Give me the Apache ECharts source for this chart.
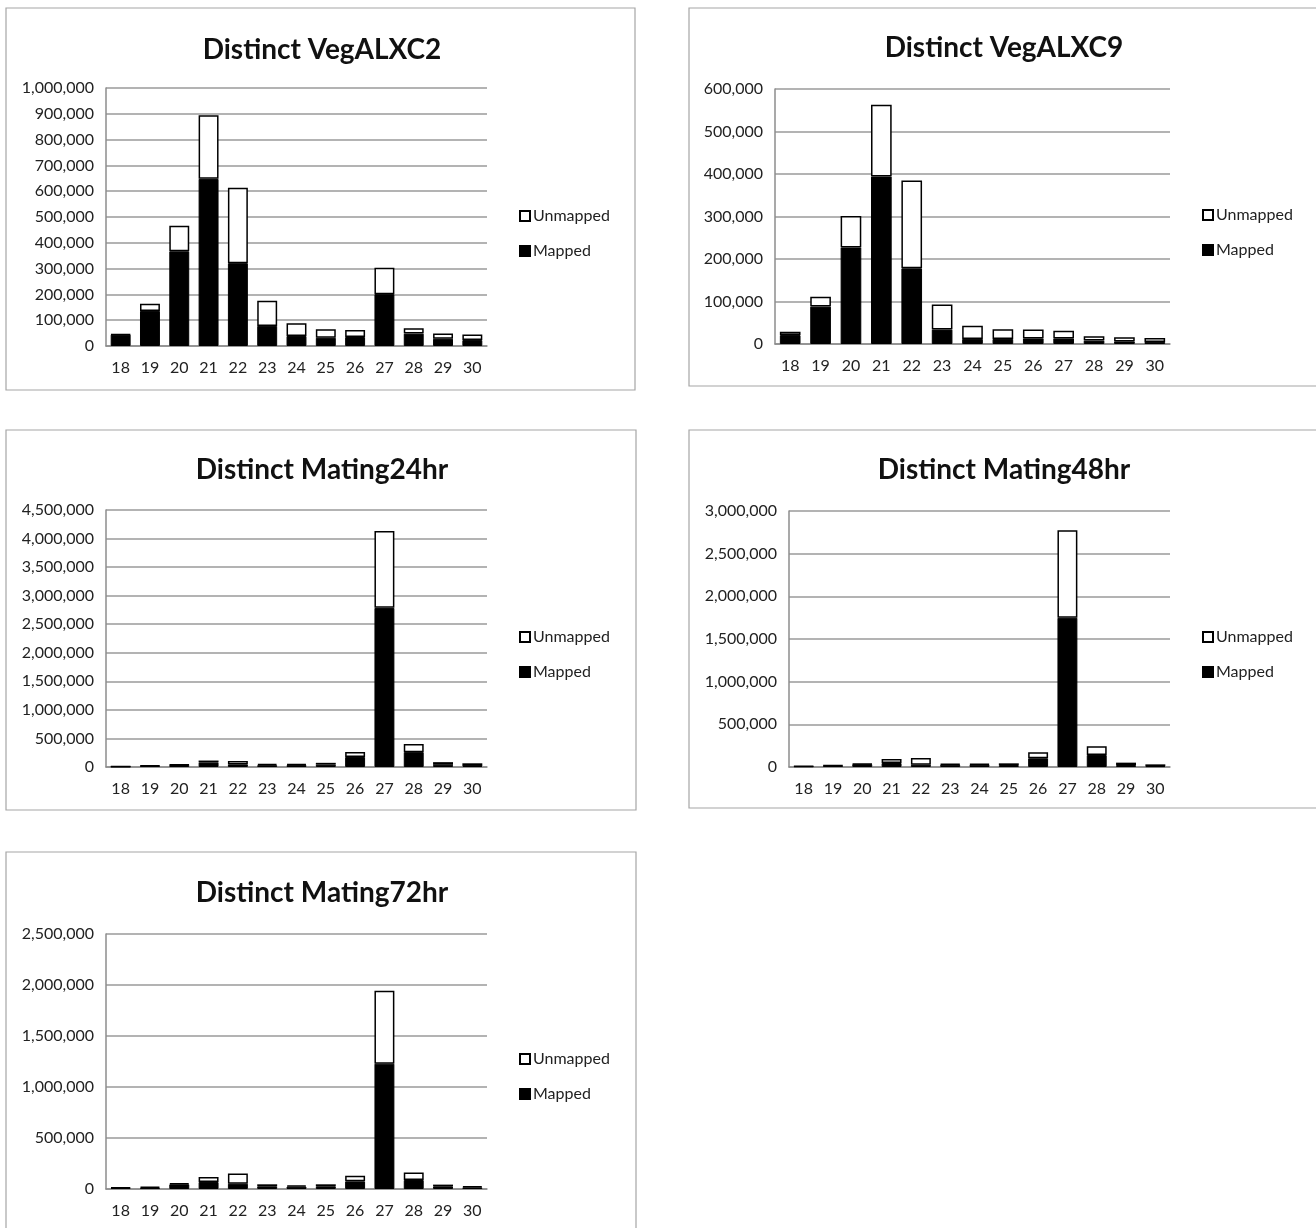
<!DOCTYPE html>
<html><head><meta charset="utf-8">
<script src="https://cdn.jsdelivr.net/npm/echarts@6/dist/echarts.min.js"></script>
<style>html,body{margin:0;padding:0;background:#fff}#c{width:1316px;height:1228px}</style>
</head><body><div id="c"></div>
<script>
const categories = ['18','19','20','21','22','23','24','25','26','27','28','29','30'];
const seriesNames = ['Mapped','Unmapped'];

const titles = ['Distinct VegALXC2','Distinct VegALXC9','Distinct Mating24hr','Distinct Mating48hr','Distinct Mating72hr'];

const vegC2Mapped   = [44000,136000,367000,648000,321000,78000,39000,32000,35000,201000,48000,28000,23000];
const vegC2Unmapped = [2000,28000,99000,246000,292000,97000,49000,33000,27000,102000,21000,20000,22000];

const vegC9Mapped   = [21000,88000,227000,394000,178000,34000,12000,12000,13000,13000,8000,6000,5000];
const vegC9Unmapped = [8000,23000,74000,169000,207000,59000,31000,23000,21000,18000,10000,10000,9000];

const mat24Mapped   = [8000,17000,35000,78000,45000,32000,33000,41000,176000,2787000,260000,38000,18000];
const mat24Unmapped = [4000,6000,6000,35000,58000,21000,18000,32000,88000,1344000,144000,47000,47000];

const mat48Mapped   = [8000,16000,33000,47000,27000,27000,27000,23000,102000,1749000,141000,23000,10000];
const mat48Unmapped = [4000,4000,6000,47000,79000,8000,8000,20000,70000,1025000,102000,28000,21000];

const mat72Mapped   = [10000,13000,46000,69000,52000,26000,23000,26000,75000,1229000,88000,26000,16000];
const mat72Unmapped = [6000,10000,10000,49000,99000,20000,13000,20000,56000,714000,73000,17000,10000];

const yMax      = [1000000, 600000, 4500000, 3000000, 2500000];
const yInterval = [100000, 100000, 500000, 500000, 500000];

const panelData = [
  [vegC2Mapped, vegC2Unmapped],
  [vegC9Mapped, vegC9Unmapped],
  [mat24Mapped, mat24Unmapped],
  [mat48Mapped, mat48Unmapped],
  [mat72Mapped, mat72Unmapped]
];

// layout (presentation only)
const layout = [
  {box:[6,8,629,382],   grid:{left:106,top:88,width:381,height:258},  titleX:317, titleY:31, legX:514, legY:203},
  {box:[689,8,640,378], grid:{left:775,top:89,width:395,height:255},  titleX:999, titleY:29, legX:1197,legY:202},
  {box:[6,430,630,380], grid:{left:106,top:510,width:381,height:257}, titleX:317, titleY:451,legX:514, legY:624},
  {box:[689,430,640,378],grid:{left:789,top:511,width:381,height:256},titleX:999, titleY:451,legX:1197,legY:624},
  {box:[6,852,630,390], grid:{left:106,top:934,width:381,height:255}, titleX:317, titleY:874,legX:514, legY:1046}
];

const FONT = 'Lato';
const fmt = v => v.toLocaleString('en-US');

const option = {
  animation:false,
  backgroundColor:'#fff',
  textStyle:{fontFamily:FONT},
  title:[], grid:[], xAxis:[], yAxis:[], legend:[], series:[],
  graphic:[]
};

layout.forEach((L,i)=>{
  option.graphic.push({type:'rect', shape:{x:L.box[0],y:L.box[1],width:L.box[2],height:L.box[3]},
    style:{fill:'none',stroke:'#a6a6a6',lineWidth:1.2}, silent:true, z:-1});
  option.title.push({text:titles[i], left:L.titleX, top:L.titleY, textAlign:'center',
    textStyle:{fontFamily:FONT,fontSize:28,fontWeight:'bold',color:'#111'}});
  option.grid.push(Object.assign({containLabel:false}, L.grid));
  option.xAxis.push({type:'category', gridIndex:i, data:categories,
    axisLine:{show:true,lineStyle:{color:'#8c8c8c',width:1.5}},
    axisTick:{show:false},
    axisLabel:{fontFamily:FONT,fontSize:16,color:'#222',margin:14}});
  option.yAxis.push({type:'value', gridIndex:i, min:0, max:yMax[i], interval:yInterval[i],
    axisLine:{show:true,lineStyle:{color:'#8c8c8c',width:1.5}},
    axisTick:{show:false},
    splitLine:{lineStyle:{color:'#9a9a9a',width:1.5}},
    axisLabel:{fontFamily:FONT,fontSize:16,color:'#222',margin:12,formatter:fmt}});
  const [mp, um] = panelData[i];
  option.series.push({name:seriesNames[0]+i, type:'bar', xAxisIndex:i, yAxisIndex:i, stack:'s'+i,
    data:mp, barCategoryGap:'32%',
    itemStyle:{color:'#000',borderColor:'#000',borderWidth:1}});
  option.series.push({name:seriesNames[1]+i, type:'bar', xAxisIndex:i, yAxisIndex:i, stack:'s'+i,
    data:um, barCategoryGap:'32%',
    itemStyle:{color:'#fff',borderColor:'#000',borderWidth:1.5}});
  option.legend.push({data:[seriesNames[1]+i], left:L.legX, top:L.legY, icon:'rect',
    itemWidth:10,itemHeight:10,itemGap:0, selectedMode:false,
    formatter:()=>seriesNames[1],
    textStyle:{fontFamily:FONT,fontSize:16,color:'#222',padding:[0,0,0,-2]}});
  option.legend.push({data:[seriesNames[0]+i], left:L.legX, top:L.legY+35, icon:'rect',
    itemWidth:10,itemHeight:10,itemGap:0, selectedMode:false,
    formatter:()=>seriesNames[0],
    textStyle:{fontFamily:FONT,fontSize:16,color:'#222',padding:[0,0,0,-2]}});
});

const chart = echarts.init(document.getElementById('c'), null, {renderer:'canvas'});
chart.setOption(option);
</script>
</body></html>
